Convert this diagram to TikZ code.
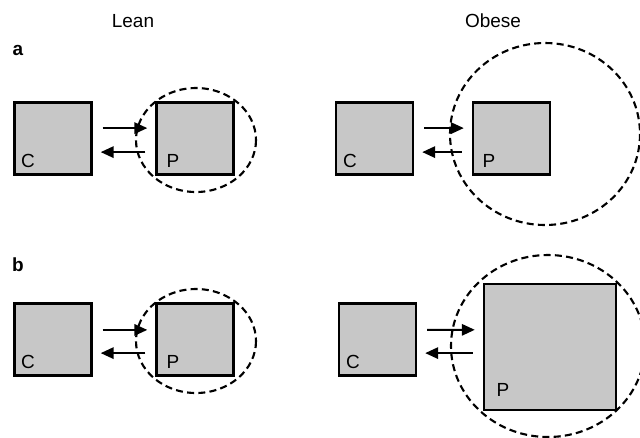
\documentclass[tikz,border=0pt]{standalone}
\usepackage{fontspec}
\setmainfont{Liberation Sans}
\usetikzlibrary{arrows.meta}

\tikzset{
  cell/.style={draw, line width=1.7pt, fill=black!22, minimum width=1.925cm, minimum height=1.8cm, inner sep=0pt},
  flow/.style={line width=1.5pt, -{Triangle[length=0.32cm, width=0.28cm]}, shorten <=0.25cm, shorten >=0.2cm},
  ring/.style={line width=1.5pt, dash pattern=on 5pt off 3pt},
  head/.style={font=\fontsize{13.5}{15}\selectfont},
  panel/.style={font=\fontsize{13.5}{15}\selectfont\bfseries}
}

\begin{document}
\begin{tikzpicture}[x=0.025cm, y=-0.025cm, font=\fontsize{13.5}{15}\selectfont]
\clip (0, 0) rectangle (640, 437);
\node [head] (lean) at (133, 21) {Lean};
\node [head] (obese) at (493, 21) {Obese};
\node [panel] (pa) at (18, 50) {a};
\node [panel] (pb) at (18, 265) {b};
% row a
\node [cell] (C1) at (53, 138.5) {};
\node [cell] (P1) at (195, 138.5) {};
\node [cell] (C2) at (374.5, 138.5) {};
\node [cell] (P2) at (511.5, 138.5) {};
\node (c1) at (28, 161) {C};
\node (p1) at (173, 161) {P};
\node (c2) at (350, 161) {C};
\node (p2) at (489, 161) {P};
\draw [ring] (196, 140) ellipse [x radius=60, y radius=52];
\draw [ring] (545, 134) ellipse [x radius=95, y radius=91];
\draw [flow] ([yshift=0.26cm]C1.east) -- ([yshift=0.26cm]P1.west);
\draw [flow] ([yshift=-0.34cm]P1.west) -- ([yshift=-0.34cm]C1.east);
\draw [flow] ([yshift=0.26cm]C2.east) -- ([yshift=0.26cm]P2.west);
\draw [flow] ([yshift=-0.34cm]P2.west) -- ([yshift=-0.34cm]C2.east);
% row b
\node [cell] (C3) at (53, 339.5) {};
\node [cell] (P3) at (195, 339.5) {};
\node [cell] (C4) at (377.5, 339.5) {};
\node [cell, minimum width=3.3cm, minimum height=3.15cm] (P4) at (550, 347) {};
\node (c3) at (28, 362) {C};
\node (p3) at (173, 362) {P};
\node (c4) at (353, 362) {C};
\node (p4) at (503, 390) {P};
\draw [ring] (196, 341) ellipse [x radius=60, y radius=52];
\draw [ring] (548, 346) ellipse [x radius=97, y radius=91];
\draw [flow] ([yshift=0.24cm]C3.east) -- ([yshift=0.24cm]P3.west);
\draw [flow] ([yshift=-0.34cm]P3.west) -- ([yshift=-0.34cm]C3.east);
\draw [flow] ([yshift=0.24cm]C4.east) -- ([yshift=0.43cm]P4.west);
\draw [flow] ([yshift=-0.34cm]C4.east -| P4.west) -- ([yshift=-0.34cm]C4.east);
\end{tikzpicture}
\end{document}
